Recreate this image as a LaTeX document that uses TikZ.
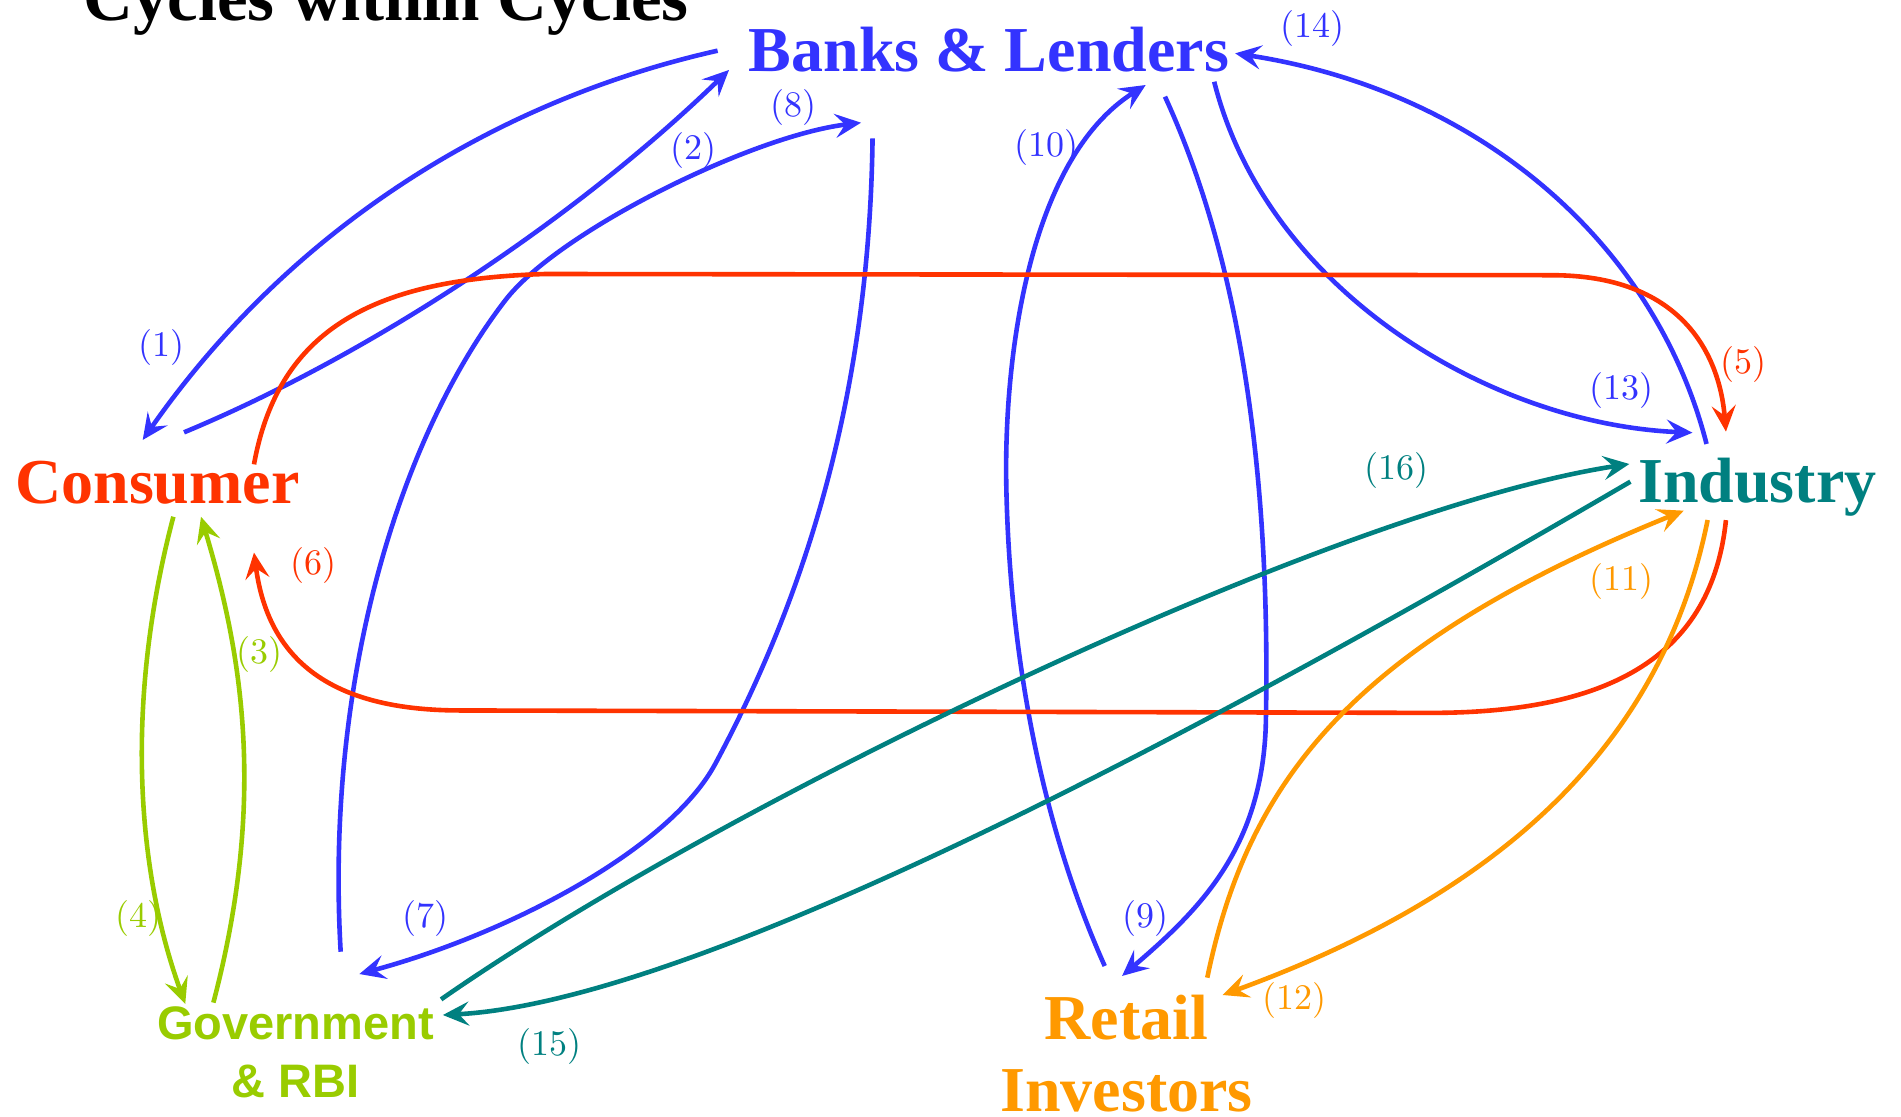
\documentclass[tikz,border=0pt]{standalone}
\usepackage{fontspec}
\usetikzlibrary{arrows.meta}
\newfontfamily\labserif{Liberation Serif}
\newfontfamily\labsans{Liberation Sans}
\newfontfamily\numfont{lmroman10-regular.otf}
\definecolor{cblue}{RGB}{51,51,255}
\definecolor{cred}{RGB}{255,51,0}
\definecolor{cteal}{RGB}{0,128,128}
\definecolor{cgreen}{RGB}{153,204,0}
\definecolor{corange}{RGB}{255,153,0}
\begin{document}
\begin{tikzpicture}[x=1.2124pt,y=-1.2124pt,
  conn/.style={line width=4.6pt},
  arr/.style={-{Stealth[length=26pt,width=24pt,inset=10pt]}},
  big/.style={font=\labserif\bfseries\fontsize{64}{72.7}\selectfont, inner sep=0pt, anchor=base},
  num/.style={font=\numfont\fontsize{36}{40}\selectfont, inner sep=0pt}
]
\useasboundingbox (0,0) rectangle (1568,921);

% main nodes
\node[big, text=black, font=\labserif\bfseries\fontsize{69}{75}\selectfont] (title) at (318.4,17.3) {Cycles within Cycles};
\node[big, text=cblue] (banks) at (815.7,59.1) {Banks \& Lenders};
\node[big, text=cred] (cons) at (129.9,415.1) {Consumer};
\node[big, text=cteal] (ind) at (1449.6,414.6) {Industry};
\node[text=cgreen, anchor=base, inner sep=0pt, font=\labsans\bfseries\fontsize{47}{58}\selectfont] (gov) at (243.7,857) {\begin{tabular}[t]{@{}c@{}}Government\\\& RBI\end{tabular}};
\node[big, text=corange] (retail) at (929.1,857) {\begin{tabular}[t]{@{}c@{}}Retail\\Investors\end{tabular}};

% connector end points
\coordinate (b1) at (591.9,41.8);  \coordinate (c1) at (117.7,362.9);
\coordinate (c2) at (151.8,356.6); \coordinate (b2) at (601.3,57.7);
\coordinate (g8) at (281,785);     \coordinate (b8) at (710.2,101.2);
\coordinate (b7) at (719.7,114.1); \coordinate (g7) at (296.4,803.4);
\coordinate (c5) at (209.5,383);   \coordinate (i5) at (1423.6,356);
\coordinate (i6) at (1423.6,429);  \coordinate (c6) at (209.5,455.8);
\coordinate (g3) at (176,827);     \coordinate (c3) at (165.8,426.2);
\coordinate (c4) at (143,426.2);   \coordinate (g4) at (152.8,828.1);
\coordinate (r10) at (911.2,796.8); \coordinate (b10) at (945,70.1);
\coordinate (b9) at (960.9,79.7);  \coordinate (r9) at (925.5,805);
\coordinate (b13) at (1001.5,67.4); \coordinate (i13) at (1396,356.9);
\coordinate (i14) at (1407.6,366.2); \coordinate (b14) at (1018.8,44);
\coordinate (g16) at (363.8,824.3); \coordinate (i16) at (1343.9,382.7);
\coordinate (i15) at (1344.8,397.3); \coordinate (g15) at (365.3,837.2);
\coordinate (r11) at (995.8,806.4); \coordinate (i11) at (1388.8,421.2);
\coordinate (i12) at (1408.5,428.9); \coordinate (r12) at (1008.4,820.7);

% blue
\draw[conn,cblue,arr] (b1) .. controls (400,85) and (235,195) .. (c1);
\draw[conn,cblue,arr] (c2) .. controls (300,295) and (470,185) .. (b2);
\draw[conn,cblue,arr] (g8) .. controls (268,560) and (330,360) .. (417,247.4) .. controls (460.5,191.1) and (620,112) .. (b8);
\draw[conn,cblue,arr] (b7) .. controls (717,330) and (662,496) .. (590,630) .. controls (552,700.6) and (420,770) .. (g7);
\draw[conn,cblue,arr] (r10) .. controls (850,660) and (832,510) .. (830,400) .. controls (828,290) and (850,130) .. (b10);
\draw[conn,cblue,arr] (b9) .. controls (1030,230) and (1048,420) .. (1044,600) .. controls (1040,700) and (990,750) .. (r9);
\draw[conn,cblue,arr] (b13) .. controls (1045,240) and (1230,350) .. (i13);
\draw[conn,cblue,arr] (i14) .. controls (1365,200) and (1220,75) .. (b14);

% red
\draw[conn,cred,arr] (c5) .. controls (230,270) and (310,230) .. (450,226) -- (1280,227) .. controls (1385,227) and (1418,290) .. (i5);
\draw[conn,cred,arr] (i6) .. controls (1412,540) and (1330,588) .. (1180,588) -- (380,586) .. controls (280,586) and (222,550) .. (c6);

% green
\draw[conn,cgreen,arr] (g3) .. controls (220,660) and (200,540) .. (c3);
\draw[conn,cgreen,arr] (c4) .. controls (105,570) and (110,710) .. (g4);

% teal
\draw[conn,cteal,arr] (g16) .. controls (600,660) and (1100,420) .. (i16);
\draw[conn,cteal,arr] (i15) .. controls (1100,540) and (600,825) .. (g15);

% orange
\draw[conn,corange,arr] (r11) .. controls (1030,640) and (1120,530) .. (i11);
\draw[conn,corange,arr] (i12) .. controls (1370,620) and (1230,740) .. (r12);

% number labels
\node[num, text=cblue] (n1) at (133,287) {(1)};
\node[num, text=cblue] (n2) at (571.7,124) {(2)};
\node[num, text=cgreen] (n3) at (213.8,539.8) {(3)};
\node[num, text=cgreen] (n4) at (114,757.9) {(4)};
\node[num, text=cred] (n5) at (1438,300.6) {(5)};
\node[num, text=cred] (n6) at (258.4,466.7) {(6)};
\node[num, text=cblue] (n7) at (350.7,757.9) {(7)};
\node[num, text=cblue] (n8) at (654.6,88.3) {(8)};
\node[num, text=cblue] (n9) at (944.8,757.9) {(9)};
\node[num, text=cblue] (n10) at (863.5,121.7) {(10)};
\node[num, text=corange] (n11) at (1337.4,479.8) {(11)};
\node[num, text=corange] (n12) at (1068,825.1) {(12)};
\node[num, text=cblue] (n13) at (1337.4,322) {(13)};
\node[num, text=cblue] (n14) at (1082.8,23.8) {(14)};
\node[num, text=cteal] (n15) at (452.9,863.3) {(15)};
\node[num, text=cteal] (n16) at (1152.2,387.7) {(16)};
\end{tikzpicture}
\end{document}
